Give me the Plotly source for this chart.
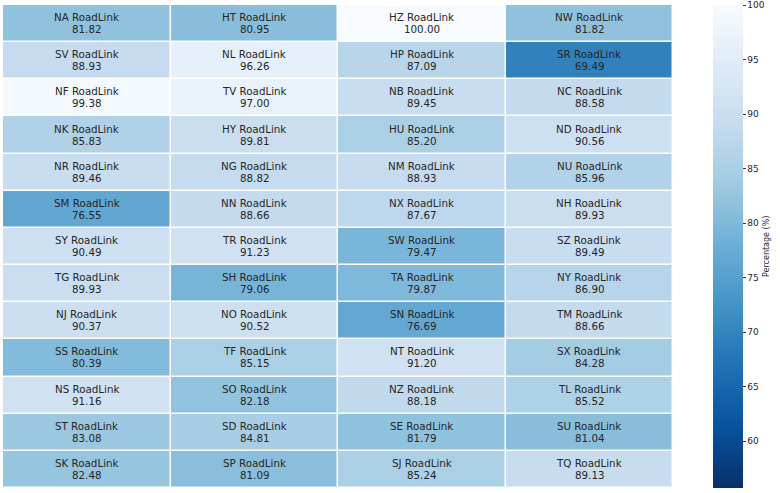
import plotly.graph_objects as go

names = [
    ["NA", "HT", "HZ", "NW"],
    ["SV", "NL", "HP", "SR"],
    ["NF", "TV", "NB", "NC"],
    ["NK", "HY", "HU", "ND"],
    ["NR", "NG", "NM", "NU"],
    ["SM", "NN", "NX", "NH"],
    ["SY", "TR", "SW", "SZ"],
    ["TG", "SH", "TA", "NY"],
    ["NJ", "NO", "SN", "TM"],
    ["SS", "TF", "NT", "SX"],
    ["NS", "SO", "NZ", "TL"],
    ["ST", "SD", "SE", "SU"],
    ["SK", "SP", "SJ", "TQ"],
]
values = [
    [81.82, 80.95, 100.00, 81.82],
    [88.93, 96.26, 87.09, 69.49],
    [99.38, 97.00, 89.45, 88.58],
    [85.83, 89.81, 85.20, 90.56],
    [89.46, 88.82, 88.93, 85.96],
    [76.55, 88.66, 87.67, 89.93],
    [90.49, 91.23, 79.47, 89.49],
    [89.93, 79.06, 79.87, 86.90],
    [90.37, 90.52, 76.69, 88.66],
    [80.39, 85.15, 91.20, 84.28],
    [91.16, 82.18, 88.18, 85.52],
    [83.08, 84.81, 81.79, 81.04],
    [82.48, 81.09, 85.24, 89.13],
]
colorbar_ticks = [60, 65, 70, 75, 80, 85, 90, 95, 100]

blues = ['rgb(247,251,255)', 'rgb(222,235,247)', 'rgb(198,219,239)', 'rgb(158,202,225)',
         'rgb(107,174,214)', 'rgb(66,146,198)', 'rgb(33,113,181)', 'rgb(8,81,156)', 'rgb(8,48,107)']
blues_r = blues[::-1]
cscale = [[i / (len(blues_r) - 1), c] for i, c in enumerate(blues_r)]

fig = go.Figure(go.Heatmap(
    z=values,
    colorscale=cscale,
    zmin=55.7, zmax=100,
    xgap=1.5, ygap=1.5,
    hoverinfo="skip",
    colorbar=dict(
        x=(713 - 3) / 670, xanchor="left", xpad=0,
        y=0.5, yanchor="middle", len=1, ypad=0,
        thickness=30, outlinewidth=0,
        tickvals=colorbar_ticks,
        ticks="outside", ticklen=3, tickwidth=0.8, tickcolor="#333",
        tickfont=dict(family="DejaVu Sans", size=9, color="#262626"),
    ),
))

font = dict(family="DejaVu Sans", size=10.3, color="#262626")
for i, (rn, rv) in enumerate(zip(names, values)):
    for j, (n, v) in enumerate(zip(rn, rv)):
        fig.add_annotation(x=j, y=i, text=f"{n} RoadLink", showarrow=False,
                           yshift=6.5, font=font)
        fig.add_annotation(x=j, y=i, text=f"{v:.2f}", showarrow=False,
                           yshift=-5.5, font=font)

fig.add_annotation(xref="paper", yref="paper", x=(773 - 3) / 670, y=0.5,
                   text="Percentage (%)", textangle=-90, showarrow=False,
                   font=dict(family="DejaVu Sans", size=8, color="#262626"))

fig.update_xaxes(visible=False)
fig.update_yaxes(visible=False, autorange="reversed")
fig.update_layout(
    width=780, height=493,
    margin=dict(l=3, r=107, t=5, b=5),
    paper_bgcolor="white", plot_bgcolor="white",
)
fig.write_html("out.html")
